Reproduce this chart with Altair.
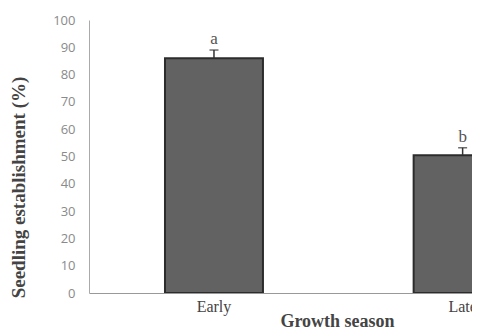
import altair as alt
import pandas as pd

seasons = ["Early", "Late"]
values = [86.0, 50.5]
errors = [3.0, 2.7]
letters = ["a", "b"]
y_ticks = [0, 10, 20, 30, 40, 50, 60, 70, 80, 90, 100]

df = pd.DataFrame({
    "season": seasons,
    "value": values,
    "upper": [v + e for v, e in zip(values, errors)],
    "letter": letters,
})

W = 383
H = 273

xscale = alt.Scale(domain=seasons, range=[0, 498.6], paddingInner=0.606, paddingOuter=0.3056)
yscale = alt.Scale(domain=[0, 100], nice=False)

x_axis = alt.Axis(
    title="Growth season", labelAngle=0, ticks=False,
    labelFont="Liberation Serif", labelFontSize=16, labelColor="#444",
    labelPadding=5, domainColor="#999", domainWidth=1.2,
    titleFont="Liberation Serif", titleFontWeight="bold", titleFontSize=18,
    titleColor="#444", titleX=248, titleY=28, titleBaseline="middle",
    titleAlign="center",
)
y_axis = alt.Axis(
    title="Seedling establishment (%)", values=y_ticks,
    labelOverlap=False, ticks=False, grid=False, labelFont="Open Sans",
    labelFontSize=13, labelColor="#8a8a8a", labelPadding=14, domainColor="#aaa",
    titleFont="Liberation Serif", titleFontWeight="bold", titleFontSize=19,
    titleColor="#444", titleX=-71, titleY=167, titleAngle=-90,
    titleAlign="center", titleBaseline="middle",
)

xenc = alt.X("season:N", scale=xscale, sort=seasons, axis=x_axis)

base = alt.Chart(df)

bars = base.mark_bar(fill="#626262", stroke="#2c2c2c", strokeWidth=2, clip=True).encode(
    x=xenc,
    y=alt.Y("value:Q", scale=yscale, axis=y_axis),
)

rules = base.mark_rule(color="#333", strokeWidth=1.5, clip=True).encode(
    x=xenc,
    y=alt.Y("value:Q", scale=yscale, axis=y_axis),
    y2="upper:Q",
)

caps = base.mark_tick(color="#333", thickness=1.5, size=9, orient="horizontal", clip=True).encode(
    x=xenc,
    y=alt.Y("upper:Q", scale=yscale, axis=y_axis),
)

labels = base.mark_text(font="Liberation Serif", fontSize=17, color="#555",
                        baseline="bottom", dy=-2, clip=True).encode(
    x=xenc,
    y=alt.Y("upper:Q", scale=yscale, axis=y_axis),
    text="letter:N",
)

chart = alt.layer(bars, rules, caps, labels).properties(
    width=W, height=H,
    background="white",
    autosize=alt.AutoSizeParams(type="none"),
    padding={"left": 81, "top": 12, "right": 0, "bottom": 38},
).configure_view(stroke=None, strokeWidth=0)

chart.save("out.html", embed_options={"renderer": "svg", "actions": False})
